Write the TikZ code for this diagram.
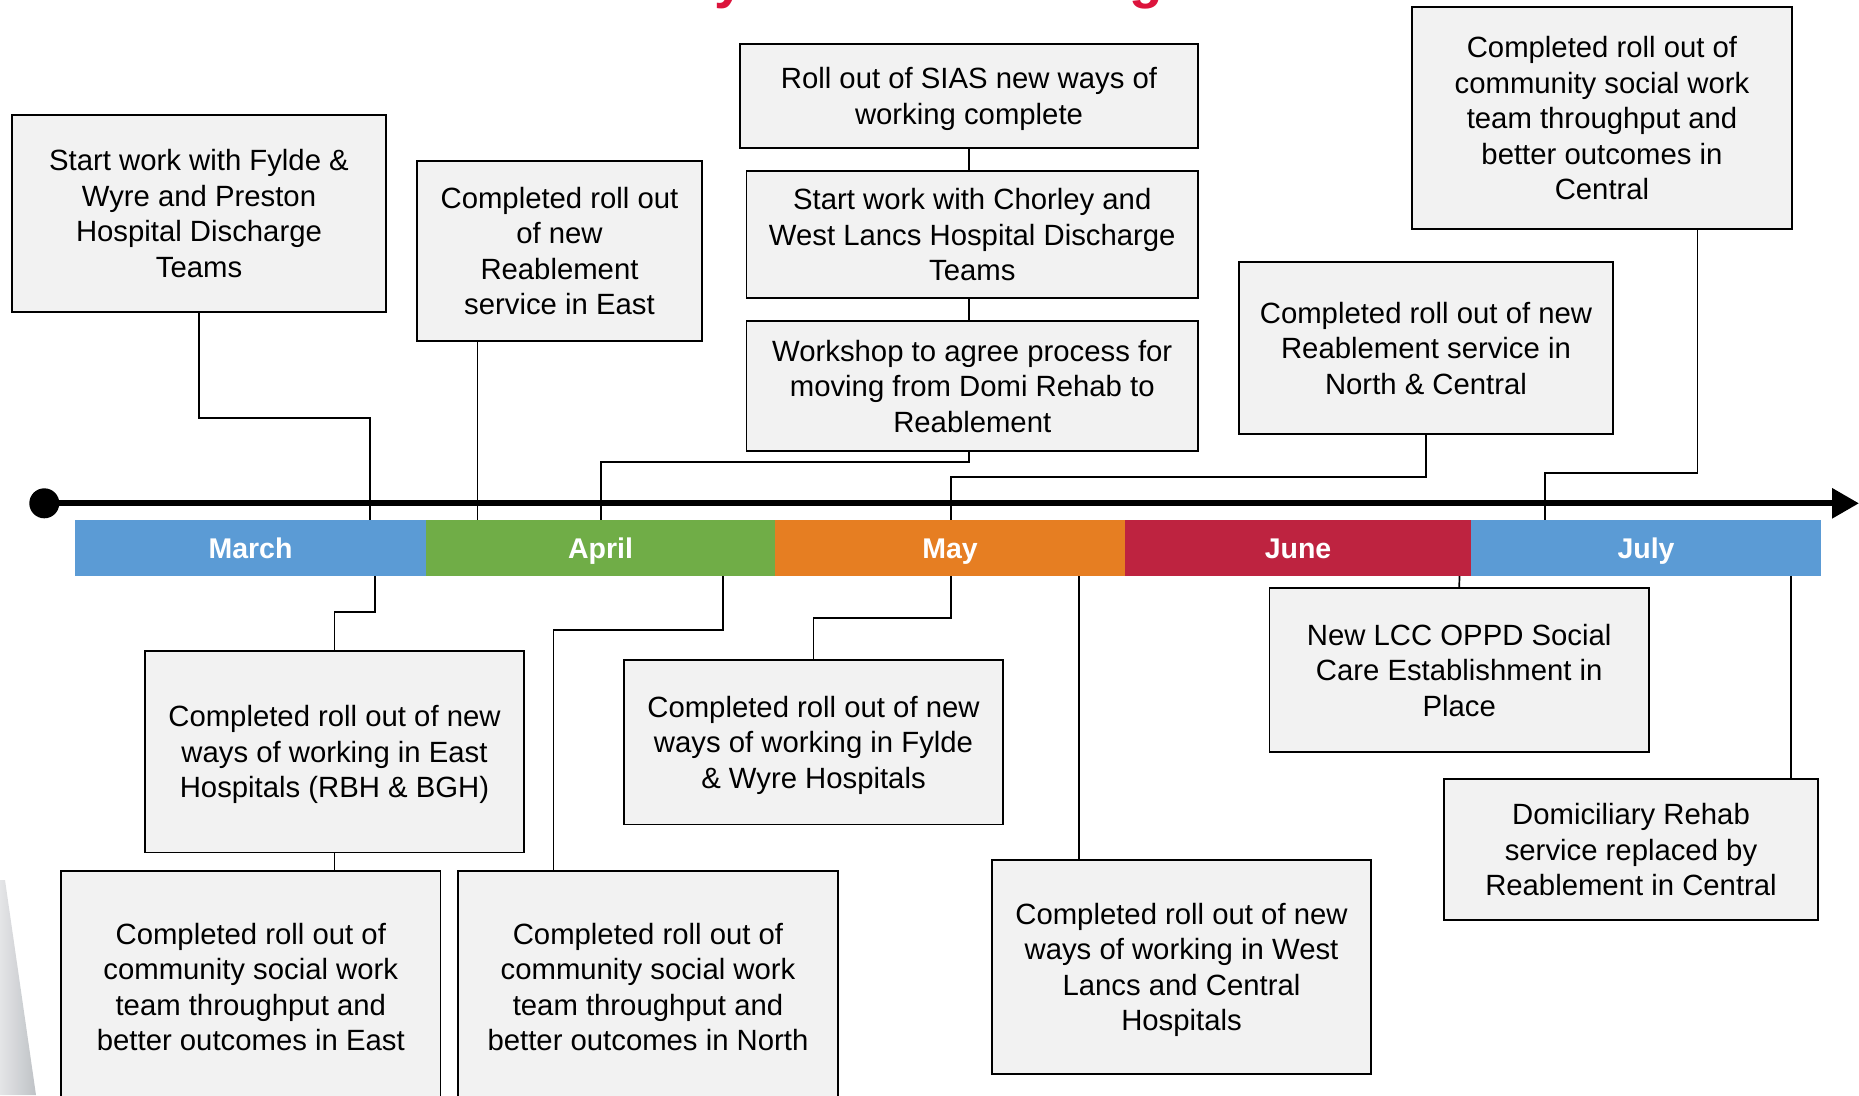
\documentclass[tikz,border=0pt]{standalone}
\usepackage{fontspec}
\setmainfont{Liberation Sans}
\usetikzlibrary{arrows.meta}
\definecolor{boxfill}{HTML}{F2F2F2}
\definecolor{mblue}{HTML}{5B9BD5}
\definecolor{mgreen}{HTML}{70AD47}
\definecolor{morange}{HTML}{E67E22}
\definecolor{mred}{HTML}{BE2340}
\definecolor{titlered}{HTML}{DC143C}
\definecolor{wedgelight}{HTML}{E4E5E7}
\definecolor{wedgedark}{HTML}{BFC2C6}
\begin{document}
\begin{tikzpicture}[x=1bp,y=-1bp,
  evbox/.style={draw=black, line width=1.6bp, fill=boxfill, inner sep=0pt, outer sep=0pt, align=center,
    font=\fontsize{29.3bp}{35.5bp}\selectfont, text depth=-6.5bp},
  conn/.style={draw=black, line width=1.7bp},
  monthseg/.style={inner sep=0pt, outer sep=0pt, minimum height=56bp, text=white,
    text height=21bp, text depth=0bp,
    font=\bfseries\fontsize{28.5bp}{34bp}\selectfont},
  timeline/.style={draw=black, line width=6bp, -{Triangle[length=27bp,width=29bp]}},
  titleglyph/.style={text=titlered, inner sep=0pt, anchor=base, font=\bfseries\fontsize{55bp}{60bp}\selectfont}
  ]
\useasboundingbox (0,0) rectangle (1859,1095);
\begin{scope}
\clip (0,0) rectangle (1859,1095);
% partial title glyphs cut off at the top
\node[titleglyph] (ty) at (730,-2.7) {y};
\node[titleglyph] (tg) at (1146,-2.7) {g};
% grey wedge bottom left
\shade[left color=wedgelight, right color=wedgedark] (0,880) -- (5,880) -- (36,1095) -- (0,1095) -- cycle;

% ---- boxes above the timeline
\node[evbox, minimum width=374bp, minimum height=197bp] (fw) at (199,213.5)
  {Start work with Fylde \&\\Wyre and Preston\\Hospital Discharge\\Teams};
\node[evbox, minimum width=285bp, minimum height=180bp] (re) at (559.5,251)
  {Completed roll out\\of new\\Reablement\\service in East};
\node[evbox, minimum width=458bp, minimum height=104bp] (sias) at (969,96)
  {Roll out of SIAS new ways of\\working complete};
\node[evbox, minimum width=451.5bp, minimum height=127bp] (ch) at (972.25,234.5)
  {Start work with Chorley and\\West Lancs Hospital Discharge\\Teams};
\node[evbox, minimum width=451.5bp, minimum height=130bp] (ws) at (972.25,386)
  {Workshop to agree process for\\moving from Domi Rehab to\\Reablement};
\node[evbox, minimum width=374bp, minimum height=172bp] (nc) at (1426,348)
  {Completed roll out of new\\Reablement service in\\North \& Central};
\node[evbox, minimum width=380bp, minimum height=222bp] (cen) at (1602,118)
  {Completed roll out of\\community social work\\team throughput and\\better outcomes in\\Central};

% ---- boxes below the timeline
\node[evbox, minimum width=379bp, minimum height=201.5bp] (eh) at (334.5,751.75)
  {Completed roll out of new\\ways of working in East\\Hospitals (RBH \& BGH)};
\node[evbox, minimum width=379.6bp, minimum height=232bp] (ce) at (250.8,987)
  {Completed roll out of\\community social work\\team throughput and\\better outcomes in East};
\node[evbox, minimum width=380bp, minimum height=232bp] (cn) at (648,987)
  {Completed roll out of\\community social work\\team throughput and\\better outcomes in North};
\node[evbox, minimum width=379bp, minimum height=164.5bp] (fh) at (813.5,742.25)
  {Completed roll out of new\\ways of working in Fylde\\\& Wyre Hospitals};
\node[evbox, minimum width=379bp, minimum height=214bp] (wl) at (1181.5,967)
  {Completed roll out of new\\ways of working in West\\Lancs and Central\\Hospitals};
\node[evbox, minimum width=379.6bp, minimum height=164.3bp] (lcc) at (1459.2,670)
  {New LCC OPPD Social\\Care Establishment in\\Place};
\node[evbox, minimum width=374bp, minimum height=141bp] (dom) at (1631,849.5)
  {Domiciliary Rehab\\service replaced by\\Reablement in Central};

% ---- attachment points on the month bar
\coordinate (a1) at (370,520);
\coordinate (a2) at (477.5,520);
\coordinate (a3) at (601,520);
\coordinate (a4) at (951,520);
\coordinate (a5) at (1545,520);
\coordinate (c5) at (1697.6,473);
\coordinate (b1) at (375,576);
\coordinate (b2) at (723,576);
\coordinate (k2) at (553.5,630);
\coordinate (b3) at (951,576);
\coordinate (b4) at (1079,576);
\coordinate (b5) at (1459.5,576);
\coordinate (b6) at (1791,576);

% ---- connectors
\draw[conn] (fw.south) -- ++(0,106) -| (a1);
\draw[conn] (a2 |- re.south) -- (a2);
\draw[conn] (sias.south) -- (sias.south |- ch.north);
\draw[conn] (sias.south |- ch.south) -- (sias.south |- ws.north);
\draw[conn] (sias.south |- ws.south) -- ++(0,11) -| (a3);
\draw[conn] (nc.south) -- ++(0,43) -| (a4);
\draw[conn] (c5 |- cen.south) -- (c5) -| (a5);
\draw[conn] (b1) -- ++(0,36) -| (eh.north);
\draw[conn] (eh.south) -- (eh.south |- ce.north);
\draw[conn] (b2) |- (k2) -- (k2 |- cn.north);
\draw[conn] (b3) -- ++(0,42) -| (fh.north);
\draw[conn] (b4) -- (b4 |- wl.north);
\draw[conn] (b5) -- (lcc.north);
\draw[conn] (b6) -- (b6 |- dom.north);

% ---- timeline
\node[circle, fill=black, minimum size=30bp, inner sep=0pt] (start) at (44.3,503.3) {};
\coordinate (tlend) at (1859,503.3);
\draw[timeline] (start.center) -- (tlend);

% ---- month bar
\node[monthseg, fill=mblue, minimum width=351bp] (mar) at (250.5,548) {March};
\node[monthseg, fill=mgreen, minimum width=349bp] (apr) at (600.5,548) {April};
\node[monthseg, fill=morange, minimum width=350bp] (may) at (950,548) {May};
\node[monthseg, fill=mred, minimum width=346bp] (jun) at (1298,548) {June};
\node[monthseg, fill=mblue, minimum width=350bp] (jul) at (1646,548) {July};
\end{scope}
\end{tikzpicture}
\end{document}
